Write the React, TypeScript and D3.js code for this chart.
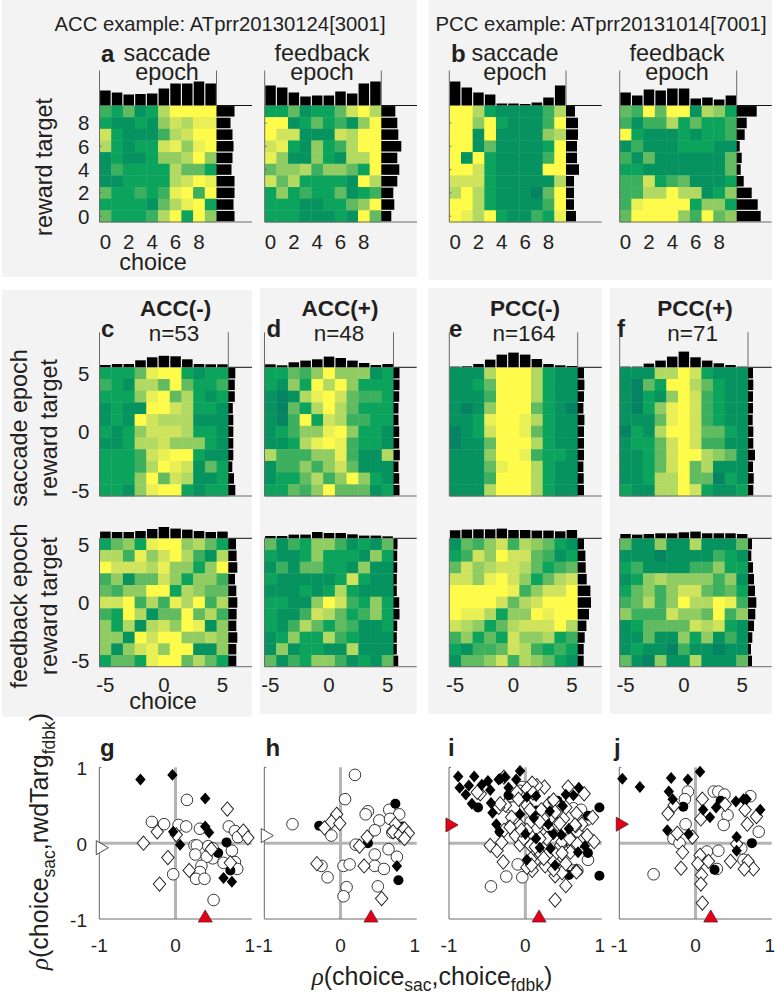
import React from "react";
import * as d3 from "d3";

// heat levels 0 (dark green) .. 9 (yellow); rows listed from the top of each map
const heatASac = [[3,2,4,1,2,6,9,9,9,9],[2,1,1,2,1,5,7,6,8,8],[7,2,1,1,1,3,6,7,9,9],[6,2,1,2,2,7,8,5,8,9],[1,2,1,1,2,5,5,6,9,5],[1,3,2,2,2,2,6,4,4,2],[1,1,2,2,2,2,6,7,9,8],[4,2,2,3,2,3,8,9,3,9],[2,2,2,2,1,4,6,8,9,2],[4,2,2,2,3,6,9,2,9,5]];
const heatAFdb = [[2,2,4,1,2,2,4,7,9,6],[9,9,1,2,4,2,3,1,5,9],[9,7,7,1,1,1,7,6,9,9],[7,8,2,1,5,2,3,6,9,9],[8,5,1,1,5,2,1,6,6,9],[4,5,5,6,3,5,5,4,2,9],[7,4,6,2,2,2,2,1,9,6],[2,5,2,3,2,2,4,1,2,3],[2,2,2,1,1,2,2,4,5,9],[2,2,2,1,1,1,2,1,9,4]];
const heatBSac = [[9,9,6,2,1,1,1,1,3,6],[9,9,5,9,2,1,1,1,3,9],[9,9,1,9,1,1,1,1,5,6],[9,9,1,4,1,1,1,1,2,9],[9,1,9,2,1,1,1,1,3,9],[9,9,7,2,1,1,1,1,9,9],[7,7,7,2,1,1,1,1,1,6],[6,9,6,2,1,1,1,0,4,9],[9,9,6,2,1,1,1,1,3,9],[9,8,6,9,2,1,1,3,2,8]];
const heatBFdb = [[4,3,9,4,9,9,1,6,5,2],[3,1,3,3,6,2,4,2,2,3],[9,2,1,1,1,2,1,2,2,3],[1,3,1,1,1,2,2,2,1,1],[3,1,4,1,1,1,1,1,1,4],[2,2,1,1,1,1,1,1,1,4],[3,3,7,2,3,4,1,1,1,2],[3,3,6,6,9,6,6,1,2,5],[3,8,9,9,9,9,2,5,5,2],[4,9,9,9,9,5,3,9,4,5]];
const heatCSac = [[2,2,2,4,8,9,9,2,1,2,2],[3,2,1,6,6,4,9,4,2,2,3],[2,2,2,5,8,9,4,6,2,1,2],[1,2,1,1,9,9,7,6,2,2,1],[1,2,1,9,7,6,6,6,1,1,1],[2,1,2,5,7,7,7,6,2,2,1],[1,1,2,6,6,7,5,5,5,2,1],[2,2,2,3,7,8,9,9,2,1,1],[2,2,2,3,6,9,8,7,1,4,2],[2,2,2,5,9,4,7,6,1,1,2],[2,2,1,5,8,9,9,2,1,2,2]];
const heatDSac = [[2,2,4,3,5,9,5,5,5,1,2],[2,1,5,2,9,6,9,5,2,2,2],[1,0,1,6,8,9,7,4,3,3,2],[1,0,4,2,6,9,6,4,2,2,2],[1,0,3,9,2,7,6,3,3,2,2],[1,2,3,5,5,8,9,5,2,2,1],[1,1,2,6,8,9,8,3,2,2,1],[6,3,3,3,5,5,8,3,1,1,6],[1,3,3,5,3,5,7,4,1,1,1],[1,2,2,4,6,3,5,9,5,2,1],[2,2,4,3,5,9,4,4,4,1,2]];
const heatESac = [[1,1,1,6,9,9,9,6,2,1,1],[1,1,2,4,9,9,9,6,2,1,1],[1,1,1,3,9,9,9,6,2,1,1],[1,0,1,5,9,9,9,4,2,1,0],[1,1,2,8,9,9,8,6,2,1,1],[0,1,2,7,9,9,8,4,2,1,1],[0,1,1,4,9,9,9,6,2,1,1],[1,1,1,5,9,9,8,3,2,2,1],[1,1,1,4,8,9,9,6,2,1,1],[1,1,1,3,9,9,9,6,2,1,1],[1,1,1,6,9,9,9,6,2,1,1]];
const heatFSac = [[1,1,1,6,6,9,7,2,1,1,1],[1,0,4,2,9,9,6,4,2,1,1],[1,0,2,1,5,9,7,3,2,1,1],[1,0,2,5,8,9,7,3,2,1,1],[1,1,1,4,8,9,7,3,2,1,1],[0,2,1,6,9,9,7,4,4,2,1],[1,2,2,4,7,9,7,3,3,1,1],[1,1,2,4,7,9,9,6,5,4,1],[1,1,2,4,7,9,4,6,1,1,1],[1,1,2,6,6,9,4,4,0,2,1],[2,1,1,6,6,9,7,2,1,1,2]];
const heatCFdb = [[2,4,5,2,8,9,9,5,6,4,2],[6,6,3,8,5,7,9,6,3,1,6],[9,7,7,7,6,8,5,5,2,5,9],[3,5,1,4,4,7,5,2,5,5,3],[4,3,5,5,9,9,2,6,5,4,4],[7,7,9,3,6,3,8,6,9,3,6],[3,2,9,6,1,4,4,9,4,6,3],[5,2,6,1,6,7,5,9,8,1,5],[5,5,1,9,7,9,9,5,5,6,5],[5,1,5,7,8,5,9,9,1,1,5],[2,4,4,2,8,9,9,4,6,4,2]];
const heatDFdb = [[4,1,3,2,5,5,3,1,2,1,4],[2,1,1,2,5,2,2,2,1,5,2],[1,3,1,4,4,2,2,1,5,1,1],[2,1,1,1,1,1,2,7,2,1,1],[1,1,1,2,1,2,6,2,1,1,1],[2,2,1,1,5,9,7,3,2,5,2],[2,1,1,3,7,6,4,2,3,5,2],[2,1,3,6,4,2,4,3,1,1,2],[1,2,5,2,2,6,3,2,1,1,1],[1,5,1,2,2,1,1,6,1,1,1],[4,1,3,2,5,5,3,1,2,1,4]];
const heatEFdb = [[1,4,3,5,7,3,6,5,4,2,1],[2,3,7,5,9,7,7,4,3,1,2],[4,7,5,6,7,7,6,4,2,3,4],[7,7,5,8,9,7,5,2,4,6,7],[9,9,9,9,9,8,3,5,7,7,9],[9,9,9,9,7,4,6,7,9,9,9],[9,8,8,6,2,5,5,9,8,9,9],[7,6,5,2,4,6,7,7,7,9,6],[3,5,2,4,2,7,5,5,6,2,3],[2,1,3,3,4,7,6,3,2,3,2],[1,4,4,5,7,3,6,5,4,2,1]];
const heatFFdb = [[4,1,1,5,1,1,6,1,1,1,4],[1,1,1,0,1,1,1,1,3,2,1],[2,3,1,1,1,1,3,3,5,2,2],[1,2,5,6,5,5,5,5,3,5,1],[2,4,5,3,5,7,7,4,3,4,2],[3,4,6,3,5,9,6,6,9,8,3],[5,3,3,3,7,5,5,4,9,3,5],[1,2,4,4,4,4,7,6,7,2,1],[1,1,4,1,1,5,2,5,1,3,1],[1,2,1,1,0,3,1,1,0,1,1],[4,1,0,5,1,1,6,1,1,1,4]];

// marginal histograms: top (per choice) and side (per reward target, from the top row down)
const topASac = [15,13,11,11.5,12,17,22,22,24,22];
const sideASac = [18,14,16,17,16,15,18,18,17,18];
const topAFdb = [20,18,13,9,10,10,14,12,22,24];
const sideAFdb = [14,16,17,20,16,18,16,12,13,10];
const topBSac = [24,18,13,11,2,2,1.5,3,8,20];
const sideBSac = [9,12,12,11,11,13,8,8,8,10];
const topBFdb = [13,10,16,15,17,17,7,8,6,10];
const sideBFdb = [20,10,8,3,5,4,7,15,21,24];
const topCSac = [2.3,3.3,3.3,7,10,11.5,11,8,3.3,3,3];
const sideCSac = [7,6.5,6.5,4.5,5,5,5,5,4,5.7,7];
const topDSac = [3,2,5,6.7,8,10.7,9.3,6.7,4.3,2.3,3.3];
const sideDSac = [6,6,5.7,5,5,5.7,5.7,6.3,5,5.7,6];
const topESac = [0.7,1,3.3,7.7,12.7,14.7,12.7,8.3,3.3,2,1.3];
const sideESac = [6.3,6.7,6.3,5.7,6.7,6.3,6.3,6.3,5.7,6,6.3];
const topFSac = [0.7,0.7,3.7,6.7,10.7,15.7,10,6.7,4,2.3,0.7];
const sideFSac = [5,5.3,5,5,4.7,5.3,5.3,7,5,5.7,5.3];
const topCFdb = [6.7,6.3,6.3,7.3,9.3,11.3,9.7,8.7,7.3,6.3,6.7];
const sideCFdb = [7.7,8.3,9,6.7,8,9,8.3,8,9,8,8];
const topDFdb = [2.3,2.3,3.7,3.7,6.3,5.3,5.3,4,2.7,2.7,2];
const sideDFdb = [4,3.7,3.7,3.3,3.3,5.7,6,3.7,3.3,3.3,4.7];
const topEFdb = [8,8.7,9,9,9.7,8.3,8.3,7.7,7.7,7,8.3];
const sideEFdb = [6.3,7.7,8,9,12.7,13.3,11.3,8.7,7,6,6];
const topFFdb = [4.3,3.7,4.3,5,5,6,6.7,5,5,5,4.3];
const sideFFdb = [4,3.3,5,6,7,8.3,7.3,6,4.3,3,4];

type P = [number, number];
// scatter: [rho(choice_sac,choice_fdbk), rho(choice_sac,rwdTarg_fdbk)]
const gFilledDiamonds: P[] = [[-.46,.84],[-.04,.9],[.39,.59],[.39,.22],[-.03,.15],[.44,.14],[.06,-.02],[.63,-.46],[.74,-.51]];
const gFilledCircles: P[] = [[.67,.01],[.56,-.13],[.72,-.36]];
const gOpenCircles: P[] = [[.15,.57],[-.31,.28],[-.15,.25],[.04,.24],[.14,.22],[.32,.19],[.7,.22],[.78,.16],[.82,.08],[.25,-.03],[.28,-.03],[.26,-.15],[.43,-.04],[.74,-.1],[.49,-.2],[.41,-.18],[.63,-.26],[.78,-.25],[.81,-.34],[.34,-.3],[.32,-.38],[.27,-.47],[.38,-.47],[-.03,-.41],[.5,-.75],[.49,-.07]];
const gOpenDiamonds: P[] = [[.68,.45],[-.24,.15],[-.42,0],[.01,.11],[-.1,-.19],[.18,-.36],[-.21,-.54],[.47,-.08],[.72,-.26],[.89,.16],[.95,.07]];

const hFilledDiamonds: P[] = [[.74,-.3]];
const hFilledCircles: P[] = [[.72,.52],[-.28,.23],[.36,0],[.76,-.49],[.81,.22]];
const hOpenCircles: P[] = [[.19,.9],[.06,.58],[-.63,.25],[.64,.44],[.36,.42],[.33,.38],[.77,.38],[.51,.3],[.65,.32],[.45,.17],[-.12,.1],[.2,-.02],[.63,-.08],[.74,-.18],[.45,-.15],[.04,-.3],[.12,-.28],[-.25,-.3],[.45,-.3],[.57,-.34],[-.17,-.45],[.08,-.58],[.04,-.7],[.49,-.57],[.68,.14]];
const hOpenDiamonds: P[] = [[-.05,.38],[-.12,.28],[-.01,.26],[-.21,.2],[.35,.08],[.25,-.04],[-.31,-.27],[.31,-.3],[.54,-.73],[.72,.25],[.69,.15],[.78,.11],[.84,.19],[.89,.13],[.84,.06]];

const iFilledDiamonds: P[] = [[-.88,.88],[-.67,.88],[-.86,.73],[-.74,.76],[-.78,.64],[-.57,.77],[-.49,.82],[-.46,.7],[-.7,.52],[-.27,.87],[-.35,.84],[-.07,.95],[-.12,.84],[-.22,.73],[-.45,.53],[-.43,.4],[-.38,.25],[-.34,.15],[.02,.61],[.14,.62],[-.07,.38],[.11,.33],[.32,.42],[.49,.49],[.53,.64],[.7,.73],[.63,.63],[.3,.25],[0,.12],[.14,.06],[.37,.12],[.19,-.06],[.33,-.07],[.57,.19],[.47,.11],[.78,-.04],[.69,-.12],[.02,-.22],[.39,-.29],[-.33,.85]];
const iFilledCircles: P[] = [[-.62,.47],[.97,.47],[.97,-.43],[.57,-.42],[.82,.36],[.82,-.13],[-.22,.63],[.42,.56],[.15,.43],[.32,.1],[-.33,.15]];
const iOpenCircles: P[] = [[-.45,-.57],[-.25,-.44],[-.04,-.45],[-.1,-.28],[.82,-.22],[.63,-.36],[.68,-.36],[.81,.31],[.63,.46],[.73,.44],[-.04,.74],[-.2,.47],[-.07,.69],[.33,.52],[-.15,.47],[.07,.28]];
const iOpenDiamonds: P[] = [[-.46,-.03],[-.37,-.1],[-.31,.01],[-.29,-.25],[-.07,-.02],[.09,-.36],[.39,-.75],[.53,-.56],[.39,-.43],[.48,-.39],[.67,-.37],[.53,-.27],[.26,-.3],[.15,-.21],[.02,-.32],[.2,-.14],[.46,-.16],[.61,-.03],[.9,.02],[.68,.15],[.5,.32],[.67,.39],[.88,.34],[.77,.65],[.56,.74],[.25,.74],[.15,.76],[.09,.79],[-.26,.5],[-.35,.47],[-.2,.23],[-.28,.17],[-.18,.34],[.02,.5],[-.13,.1],[.31,.52],[.38,.54],[.22,.12],[.07,-.03],[.28,.06],[.42,.25],[.55,.06],[.74,.25],[.66,.23],[.81,.1],[.41,-.12],[.59,-.12],[.07,-.21],[-.59,.65],[-.63,.67],[-.11,.67],[.02,.72],[-.09,.58],[.53,.47],[.68,-.01],[.24,.32],[-.07,.23],[.15,.19],[.46,-.03],[.28,-.16],[.1,.66],[.37,.57],[.21,.44],[.06,.44],[.39,.41],[.19,.28],[.45,.26],[.65,.24],[.02,.17],[.19,.06],[.48,.02],[.58,.06],[.48,-.13],[.24,-.2],[.13,-.05],[.37,-.35],[.08,-.29],[.67,-.38],[-.02,.06],[-.05,.17],[-.2,.21],[-.33,.52],[-.28,.87]];

const jFilledDiamonds: P[] = [[-.96,.85],[-.73,.74],[-.32,.86],[-.1,.84],[.06,.94],[-.35,.68],[-.3,.58],[.1,.44],[.27,.47],[.19,.34],[.53,.55],[.85,.44],[-.37,.17],[-.09,.12],[.54,.08],[.54,-.1],[.63,.58],[.67,.58]];
const jFilledCircles: P[] = [[-.16,.48],[.25,-.35],[.74,0],[.33,.56]];
const jOpenCircles: P[] = [[-.55,-.41],[-.1,.68],[-.14,.58],[-.13,.25],[-.29,.06],[-.21,0],[.24,.68],[.3,.68],[.38,.64],[.72,.62],[.42,.37],[.37,.24],[.83,.15],[.3,-.1],[.15,-.11],[.6,-.07],[.63,-.22],[.28,-.34]];
const jOpenDiamonds: P[] = [[.09,.58],[-.28,.5],[-.36,.39],[.07,.32],[.39,.51],[.68,.25],[.8,.35],[.65,.44],[-.24,.13],[-.04,.08],[-.17,-.12],[-.19,-.33],[.06,-.16],[.03,-.27],[.17,-.24],[.46,-.24],[.69,-.24],[.76,-.34],[.64,-.34],[.08,-.42],[.07,-.54],[.09,-.79],[.54,-.01]];

const levelColors = ["#058362","#07935f","#0ca45c","#3db05f","#62bb60","#90cc62","#b2d961","#cfe45c","#e8f055","#fffb4a"];
const heatColor = d3.scaleLinear<string>().domain(d3.range(10)).range(levelColors);

const FONT = "'Liberation Sans', Arial, sans-serif";
const INK = "#231f20";
const AXIS = "#6a6a6a";

function T(p: any) {
  const { x, y, rot, size = 18, anchor = "middle", bold, children, ...rest } = p;
  return (
    <text
      transform={rot ? `translate(${x},${y}) rotate(-90)` : undefined}
      x={rot ? undefined : x}
      y={rot ? undefined : y}
      fontSize={size}
      fontFamily={FONT}
      fontWeight={bold ? 700 : 400}
      textAnchor={anchor}
      fill={INK}
      {...rest}
    >
      {children}
    </text>
  );
}

function Heat(p: {
  x0: number; x1: number; y0: number; y1: number; lineEnd: number;
  rows: number[][]; top: number[]; side: number[];
  xTicks: number[]; yTicks: number[]; xFirst: number; yFirst: number;
  xLabels: boolean; yLabels: boolean; labelY: number; stem: boolean; marks: boolean;
}) {
  const n = p.rows[0].length;
  const idx = d3.range(n);
  const xs = d3.scaleBand<number>().domain(idx).range([p.x0, p.x1]);
  const ys = d3.scaleBand<number>().domain(idx).range([p.y0, p.y1]);
  const hTop = d3.scaleLinear().domain([0, 1]).range([p.y0, p.y0 - 1]);
  const wSide = d3.scaleLinear().domain([0, 1]).range([p.x1, p.x1 + 1]);
  const tx = (t: number) => xs(t - p.xFirst)! + xs.bandwidth() / 2;
  const ty = (t: number) => ys(n - 1 - (t - p.yFirst))! + ys.bandwidth() / 2;
  const bw = xs.bandwidth();
  const bh = ys.bandwidth();
  return (
    <g>
      {p.rows.map((row, r) =>
        row.map((v, c) => (
          <rect key={`${r}-${c}`} x={xs(c)} y={ys(r)} width={bw + 0.4} height={bh + 0.4} fill={heatColor(v)} />
        ))
      )}
      {p.top.map((v, i) => (
        <rect key={i} x={xs(i)! + bw * 0.05} y={hTop(v)} width={bw * 0.9} height={p.y0 - hTop(v)} fill="#000" />
      ))}
      {p.side.map((v, i) => (
        <rect key={i} x={p.x1} y={ys(i)! + bh * 0.05} width={wSide(v) - p.x1} height={bh * 0.9} fill="#000" />
      ))}
      <line x1={p.x1} x2={p.lineEnd} y1={p.y0} y2={p.y0} stroke="#111" strokeWidth={1} />
      <line x1={p.x0} x2={p.lineEnd} y1={p.y1} y2={p.y1} stroke={AXIS} strokeWidth={1} />
      <line x1={p.x0} x2={p.x0} y1={p.stem ? p.y0 - 35 : p.y0} y2={p.y1} stroke={AXIS} strokeWidth={1} />
      {p.stem && <line x1={p.x1} x2={p.x1} y1={p.y0 - 35} y2={p.y0} stroke={AXIS} strokeWidth={1} />}
      {p.marks && p.yTicks.map((t) => (
        <line key={t} x1={p.x0} x2={p.x0 + 2} y1={ty(t)} y2={ty(t)} stroke={AXIS} strokeWidth={1} />
      ))}
      {p.xLabels && p.xTicks.map((t) => (
        <T key={t} x={tx(t)} y={p.labelY} size={20.5}>{t}</T>
      ))}
      {p.yLabels && p.yTicks.map((t) => (
        <T key={t} x={p.x0 - 10} y={ty(t) + 7.5} size={20.5} anchor="end">{t}</T>
      ))}
    </g>
  );
}

const circlePath = (r: number) => d3.symbol(d3.symbolCircle, Math.PI * r * r)()!;
const diamondPath = (h: number) => d3.symbol(d3.symbolDiamond2, (h / 0.62625) ** 2)()!;
const trianglePath = d3.symbol(d3.symbolTriangle, 85)()!;

function Scatter(p: {
  x0: number; x1: number; oc: P[]; fc: P[]; od: P[]; fd: P[];
  meanX: number; meanY: number; red: boolean; yLabels: boolean;
}) {
  const sx = d3.scaleLinear().domain([-1, 1]).range([p.x0, p.x1]);
  const sy = d3.scaleLinear().domain([-1, 1]).range([919, 767.3]);
  const at = (d: P) => `translate(${sx(d[0])},${sy(d[1])})`;
  const oc = circlePath(5.8);
  const fc = circlePath(5);
  const od = diamondPath(6.2);
  const fd = diamondPath(5.2);
  return (
    <g>
      <line x1={sx(0)} x2={sx(0)} y1={sy(1)} y2={sy(-1)} stroke="#b4b4b4" strokeWidth={3} />
      <line x1={sx(-1)} x2={sx(1)} y1={sy(0)} y2={sy(0)} stroke="#b4b4b4" strokeWidth={3} />
      <path d={`M${sx(-1) + 2},${sy(1)}H${sx(-1)}V${sy(-1)}H${sx(1)}`} fill="none" stroke={AXIS} strokeWidth={1} />
      {p.oc.map((d, i) => <path key={i} d={oc} transform={at(d)} fill="#fff" stroke="#222" strokeWidth={0.9} />)}
      {p.fc.map((d, i) => <path key={i} d={fc} transform={at(d)} fill="#000" />)}
      {p.od.map((d, i) => <path key={i} d={od} transform={at(d) + " scale(1,1.15)"} fill="#fff" stroke="#222" strokeWidth={0.9} />)}
      {p.fd.map((d, i) => <path key={i} d={fd} transform={at(d) + " scale(1,1.15)"} fill="#000" />)}
      <path d={trianglePath} transform={`translate(${sx(p.meanX)},${sy(-1) - 1})`} fill="#e3001b" stroke="#5a1a1a" strokeWidth={0.7} />
      <path d={trianglePath} transform={`translate(${sx(-1) + 1},${sy(p.meanY)}) rotate(90)`} fill={p.red ? "#e3001b" : "#fff"} stroke={p.red ? "#5a1a1a" : "#222"} strokeWidth={0.8} />
      {[-1, 0, 1].map((t) => (
        <T key={t} x={sx(t) - (t === 1 ? 2 : 0)} y={951.5} size={19}>{t}</T>
      ))}
      {p.yLabels && [-1, 0, 1].map((t) => (
        <T key={t} x={87} y={sy(t) + 8} size={19} anchor="end">{t}</T>
      ))}
    </g>
  );
}

const panels = [
  [2, 0, 414.7, 277], [428.5, 0, 343.5, 280], [2, 290, 249.7, 426.7],
  [260, 287.7, 156.7, 426.3], [428.3, 288, 173.4, 426], [610, 288, 161.7, 426],
];

const HY0 = 105.5, HY1 = 222;
const RY = [[367.3, 496], [538.3, 666.7]];
const col = [
  { x0: 99.5, x1: 228.3, e: 252 }, { x0: 264.5, x1: 393.5, e: 416.7 },
  { x0: 449.3, x1: 577.7, e: 601.7 }, { x0: 619.7, x1: 748, e: 771.7 },
];
const sTicks = [-5, 0, 5];
const eTicksX = [0, 2, 4, 6, 8];
const eTicksY = [0, 2, 4, 6, 8];

const sacMaps = [[heatCSac, topCSac, sideCSac], [heatDSac, topDSac, sideDSac], [heatESac, topESac, sideESac], [heatFSac, topFSac, sideFSac]] as const;
const fdbMaps = [[heatCFdb, topCFdb, sideCFdb], [heatDFdb, topDFdb, sideDFdb], [heatEFdb, topEFdb, sideEFdb], [heatFFdb, topFFdb, sideFFdb]] as const;

const Rho = ({ size = 25 }: { size?: number }) => (
  <tspan fontFamily="'Liberation Serif', serif" fontStyle="italic" fontSize={size}>ρ</tspan>
);

export default function App() {
  return (
    <svg width={775} height={997} viewBox="0 0 775 997" style={{ position: "absolute", left: 0, top: 0, display: "block", background: "#fff" }}>
      {panels.map((b, i) => <rect key={i} x={b[0]} y={b[1]} width={b[2]} height={b[3]} fill="#f3f3f3" />)}

      <T x={220} y={30.5} size={20.3}>ACC example: ATprr20130124[3001]</T>
      <T x={601} y={30.5} size={20.3}>PCC example: ATprr20131014[7001]</T>
      <T x={101} y={62} size={24} anchor="start" bold>a</T>
      <T x={451} y={62} size={24} anchor="start" bold>b</T>
      {[[167, "saccade"], [322, "feedback"], [515, "saccade"], [677, "feedback"]].map(([x, s]) => (
        <g key={x as number}>
          <T x={x} y={60.5} size={23.4}>{s}</T>
          <T x={x} y={80} size={23.4}>epoch</T>
        </g>
      ))}

      {([
        [99.5, 216.5, 252, heatASac, topASac, sideASac, true],
        [264.7, 381.3, 417, heatAFdb, topAFdb, sideAFdb, false],
        [449.3, 566, 601.7, heatBSac, topBSac, sideBSac, false],
        [619.7, 736.7, 771.7, heatBFdb, topBFdb, sideBFdb, false],
      ] as any[]).map((c, i) => (
        <Heat key={i} x0={c[0]} x1={c[1]} y0={HY0} y1={HY1} lineEnd={c[2]} rows={c[3]} top={c[4]} side={c[5]}
          xTicks={eTicksX} yTicks={eTicksY} xFirst={0} yFirst={0} xLabels yLabels={c[6]} labelY={248.5} stem marks />
      ))}
      <T x={52} y={167} rot size={23.4}>reward target</T>
      <T x={153} y={270} size={23.4}>choice</T>

      {["ACC(-)", "ACC(+)", "PCC(-)", "PCC(+)"].map((s, i) => (
        <T key={s} x={[175.7, 340, 525, 695][i]} y={316} size={22.5} bold>{s}</T>
      ))}
      {["n=53", "n=48", "n=164", "n=71"].map((s, i) => (
        <T key={s} x={[174, 339, 524, 692.7][i]} y={341} size={22.5}>{s}</T>
      ))}
      {["c", "d", "e", "f"].map((s, i) => (
        <T key={s} x={[101, 266.5, 449, 617][i]} y={337} size={24} anchor="start" bold>{s}</T>
      ))}

      {col.map((c, i) => (
        <Heat key={i} x0={c.x0} x1={c.x1} y0={RY[0][0]} y1={RY[0][1]} lineEnd={c.e}
          rows={sacMaps[i][0] as any} top={sacMaps[i][1] as any} side={sacMaps[i][2] as any}
          xTicks={sTicks} yTicks={sTicks} xFirst={-5} yFirst={-5} xLabels={false} yLabels={i === 0} labelY={0} stem marks={false} />
      ))}
      {col.map((c, i) => (
        <Heat key={i} x0={c.x0} x1={c.x1} y0={RY[1][0]} y1={RY[1][1]} lineEnd={c.e}
          rows={fdbMaps[i][0] as any} top={fdbMaps[i][1] as any} side={fdbMaps[i][2] as any}
          xTicks={sTicks} yTicks={sTicks} xFirst={-5} yFirst={-5} xLabels yLabels={i === 0} labelY={691.5} stem={false} marks={false} />
      ))}
      <T x={27} y={428} rot size={23.4}>saccade epoch</T>
      <T x={57} y={428} rot size={23.4}>reward target</T>
      <T x={27} y={606} rot size={23.4}>feedback epoch</T>
      <T x={57} y={606} rot size={23.4}>reward target</T>
      <T x={163} y={709} size={23.4}>choice</T>

      {["g", "h", "i", "j"].map((s, i) => (
        <T key={s} x={[100, 265.5, 448, 614][i]} y={756} size={24} anchor="start" bold>{s}</T>
      ))}
      <Scatter x0={99.3} x1={251.7} oc={gOpenCircles} fc={gFilledCircles} od={gOpenDiamonds} fd={gFilledDiamonds} meanX={0.39} meanY={-0.06} red={false} yLabels />
      <Scatter x0={264.3} x1={416.7} oc={hOpenCircles} fc={hFilledCircles} od={hOpenDiamonds} fd={hFilledDiamonds} meanX={0.4} meanY={0.1} red={false} yLabels={false} />
      <Scatter x0={449} x1={601.7} oc={iOpenCircles} fc={iFilledCircles} od={iOpenDiamonds} fd={iFilledDiamonds} meanX={0.18} meanY={0.24} red yLabels={false} />
      <Scatter x0={619.3} x1={771.7} oc={jOpenCircles} fc={jFilledCircles} od={jOpenDiamonds} fd={jFilledDiamonds} meanX={0.2} meanY={0.25} red yLabels={false} />

      <T x={48} y={970} rot size={25} anchor="start">
        <Rho />(choice<tspan fontSize={17.5} dy={7}>sac</tspan><tspan dy={-7}>,rwdTarg</tspan><tspan fontSize={17.5} dy={7}>fdbk</tspan><tspan dy={-7}>)</tspan>
      </T>
      <T x={432} y={985} size={25}>
        <Rho />(choice<tspan fontSize={17.5} dy={6}>sac</tspan><tspan dy={-6}>,choice</tspan><tspan fontSize={17.5} dy={6}>fdbk</tspan><tspan dy={-6}>)</tspan>
      </T>
    </svg>
  );
}
